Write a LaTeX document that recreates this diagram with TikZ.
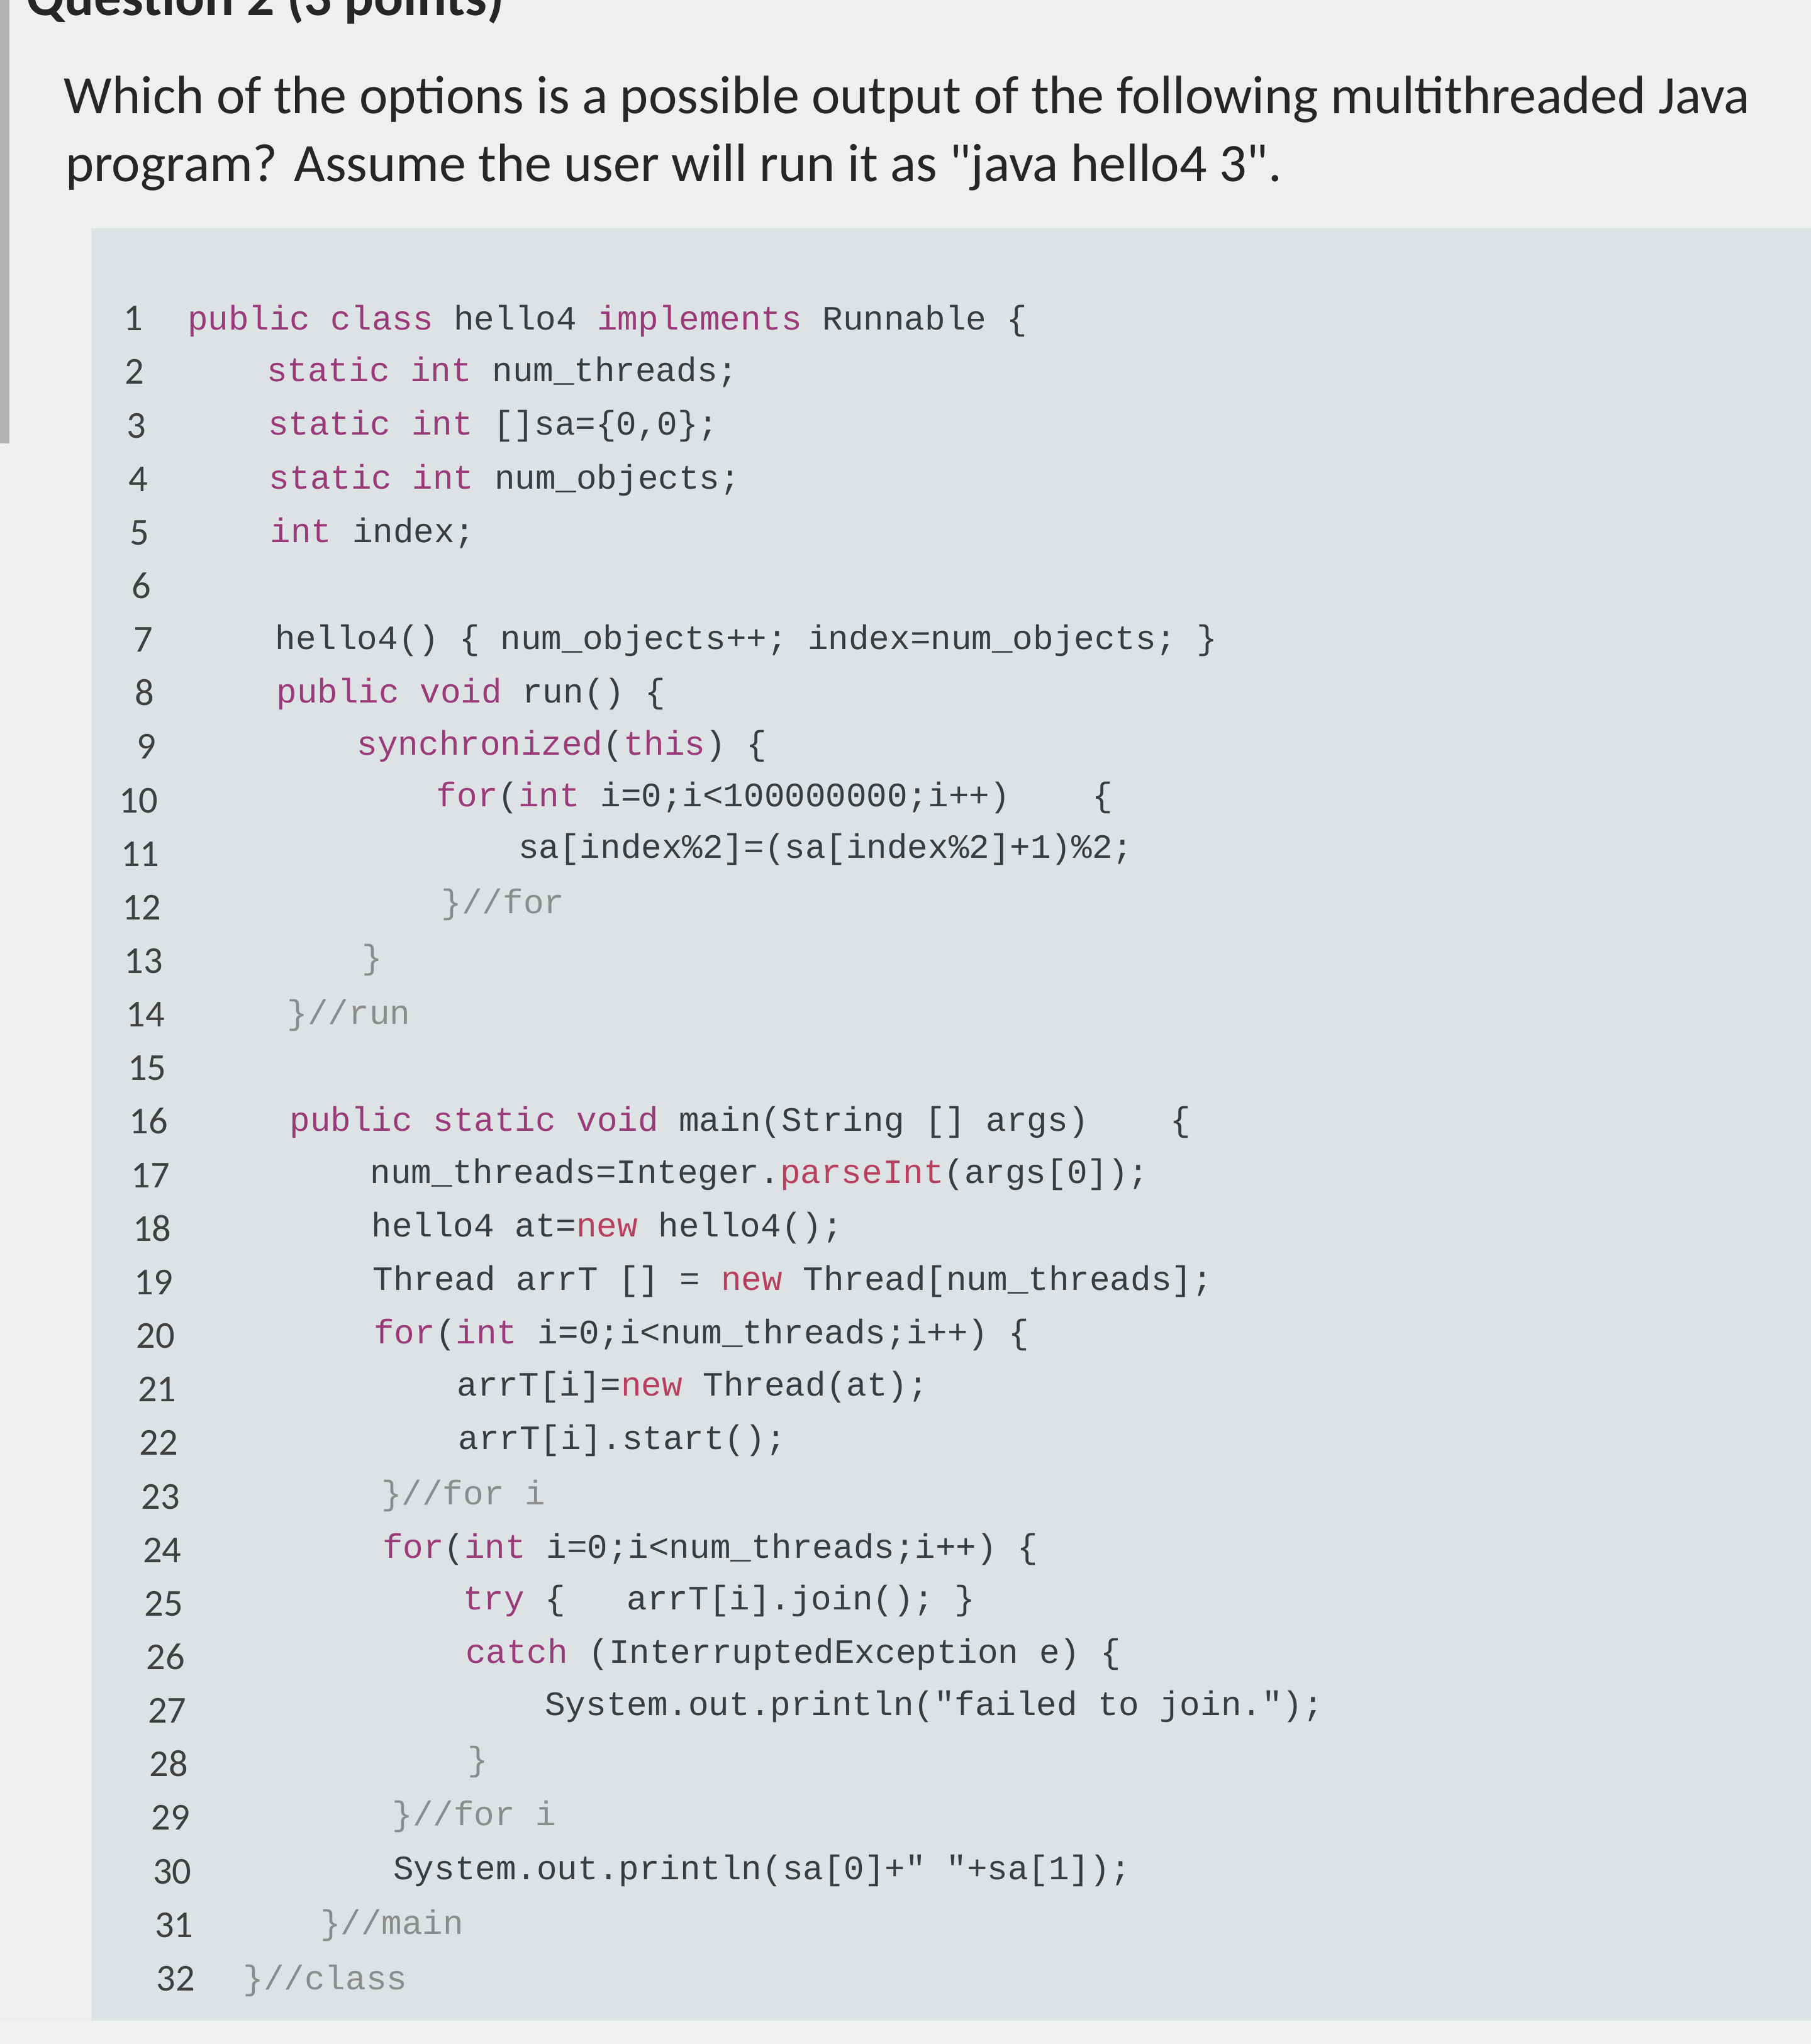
\documentclass[tikz,border=0pt]{standalone}
\usepackage{fontspec}
\setmainfont{Carlito}[Ligatures=TeXOff]
\newfontfamily\cf{Liberation Mono}
\definecolor{kwc}{HTML}{9A3A78}
\definecolor{rdc}{HTML}{B8405E}
\definecolor{cmc}{HTML}{8C8C8C}
\definecolor{txc}{HTML}{3A3D40}
\definecolor{bgc}{HTML}{DDE2E4}
\definecolor{topc}{HTML}{EEEFEF}
\newcommand\kw[1]{\textcolor{kwc}{#1}}
\newcommand\rd[1]{\textcolor{rdc}{#1}}
\newcommand\cm[1]{\textcolor{cmc}{#1}}
\tikzset{code/.style={anchor=base west,inner sep=0pt,font=\cf\fontsize{7.45}{9}\selectfont,text=txc},
 lnum/.style={anchor=base east,inner sep=0pt,font=\fontsize{8.3}{10}\selectfont,text=black!75},
 title/.style={anchor=base west,inner sep=0pt,font=\fontsize{11.8}{14}\selectfont,text=black!85}}
\begin{document}
\begin{tikzpicture}[x=1cm,y=1cm]
\useasboundingbox (0,0) rectangle (13.89,-15.68);
\fill[topc] (0,0) rectangle (13.89,-15.68);
\fill[bgc] (0.7,-1.75) rectangle (13.89,-15.5);
\fill[gray!60] (0,0) rectangle (0.07,-3.4);
\fill[white!90!gray] (0,-15.5) rectangle (13.89,-15.68);
\begin{scope}
\clip (0,0) rectangle (13.89,-15.68);
\node[title,font=\bfseries\fontsize{12}{14}\selectfont] (q) at (0.2,-0.12) {Question 2 (3 points)};
\end{scope}
\begin{scope}[rotate around={1.25:(1.0,-8)}]
\node[title] (t1) at (0.64,-0.86) {Which of the options is a possible output of the following multithreaded Java};
\node[title] (t2) at (0.64,-1.38) {program? Assume the user will run it as "java hello4 3".};
\foreach \n in {1,...,32}{
  \node[lnum] (n\n) at ({1.22+0.004*(\n-1)},{-(2.54+0.411*(\n-1))}) {\n};
}
\newcommand\cl[3]{\node[code] (c#1) at (#2,{-(2.54+0.411*(#1-1))}) {#3};}
\cl{1}{1.55}{\kw{public class} hello4 \kw{implements} Runnable \{}
\cl{2}{2.15}{\kw{static int} num\_threads;}
\cl{3}{2.15}{\kw{static int} []sa=\{0,0\};}
\cl{4}{2.15}{\kw{static int} num\_objects;}
\cl{5}{2.15}{\kw{int} index;}
\cl{7}{2.17}{hello4() \{ num\_objects++; index=num\_objects; \}}
\cl{8}{2.17}{\kw{public void} run() \{}
\cl{9}{2.78}{\kw{synchronized}(\kw{this}) \{}
\cl{10}{3.38}{\kw{for}(\kw{int} i=0;i<100000000;i++)\ \ \ \ \{}
\cl{11}{4.00}{sa[index\%2]=(sa[index\%2]+1)\%2;}
\cl{12}{3.40}{\cm{\}//for}}
\cl{13}{2.78}{\cm{\}}}
\cl{14}{2.20}{\cm{\}//run}}
\cl{16}{2.20}{\kw{public static void} main(String [] args)\ \ \ \ \{}
\cl{17}{2.81}{num\_threads=Integer.\rd{parseInt}(args[0]);}
\cl{18}{2.81}{hello4 at=\rd{new} hello4();}
\cl{19}{2.81}{Thread arrT [] = \rd{new} Thread[num\_threads];}
\cl{20}{2.81}{\kw{for}(\kw{int} i=0;i<num\_threads;i++) \{}
\cl{21}{3.44}{arrT[i]=\rd{new} Thread(at);}
\cl{22}{3.44}{arrT[i].start();}
\cl{23}{2.84}{\cm{\}//for i}}
\cl{24}{2.84}{\kw{for}(\kw{int} i=0;i<num\_threads;i++) \{}
\cl{25}{3.45}{\kw{try} \{\ \ \ arrT[i].join(); \}}
\cl{26}{3.46}{\kw{catch} (InterruptedException e) \{}
\cl{27}{4.06}{System.out.println("failed to join.");}
\cl{28}{3.46}{\cm{\}}}
\cl{29}{2.87}{\cm{\}//for i}}
\cl{30}{2.87}{System.out.println(sa[0]+" "+sa[1]);}
\cl{31}{2.30}{\cm{\}//main}}
\cl{32}{1.70}{\cm{\}//class}}
\end{scope}
\end{tikzpicture}
\end{document}
